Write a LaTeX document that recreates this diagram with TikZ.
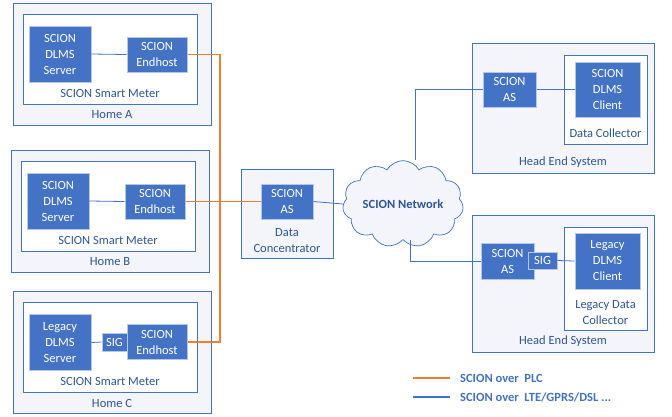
\documentclass[tikz,border=0pt]{standalone}
\usepackage{fontspec}
\setmainfont{Carlito}
\usetikzlibrary{shapes.symbols}
\definecolor{bblue}{HTML}{4472C4}
\definecolor{bedge}{HTML}{B4C7E7}
\definecolor{tblue}{HTML}{2F5597}
\definecolor{lblue}{HTML}{4472C4}
\definecolor{orng}{HTML}{ED7D31}
\definecolor{outfill}{HTML}{F3F5FB}
\begin{document}
\begin{tikzpicture}[x=1pt,y=-1pt,
  font=\fontsize{12.5}{16}\selectfont,
  blk/.style={draw=bedge,line width=1pt,fill=bblue,text=white,align=center,inner sep=0pt},
  outer/.style={draw=bblue,line width=0.8pt,fill=outfill,inner sep=0pt},
  inner/.style={draw=bblue,line width=0.8pt,fill=white,inner sep=0pt},
  lbl/.style={text=tblue,align=center,inner sep=0pt},
  blueline/.style={draw=lblue,line width=0.8pt},
  orline/.style={draw=orng,line width=1.2pt}]
\useasboundingbox (0,0) rectangle (672,416);
\fill[white] (0,0) rectangle (672,416);
% Home A
\node[outer,minimum width=198pt,minimum height=122pt] (homeA) at (112,64) {};
\node[inner,minimum width=174pt,minimum height=90pt] (smA) at (110,59) {};
\node[blk,minimum width=62pt,minimum height=56pt] (srvA) at (60,54) {SCION\\DLMS\\Server};
\node[blk,minimum width=60pt,minimum height=35pt] (ehA) at (157,54.5) {SCION\\Endhost};
\node[lbl] (smAl) at (110,93) {SCION Smart Meter};
\node[lbl] (homeAl) at (112,115) {Home A};
\draw[blueline] (srvA.east) -- (ehA.west);
% Home B
\node[outer,minimum width=198pt,minimum height=122pt] (homeB) at (110,211) {};
\node[inner,minimum width=174pt,minimum height=90pt] (smB) at (108,206) {};
\node[blk,minimum width=62pt,minimum height=56pt] (srvB) at (58,201) {SCION\\DLMS\\Server};
\node[blk,minimum width=60pt,minimum height=35pt] (ehB) at (155,201.5) {SCION\\Endhost};
\node[lbl] (smBl) at (108,240) {SCION Smart Meter};
\node[lbl] (homeBl) at (110,262) {Home B};
\draw[blueline] (srvB.east) -- (ehB.west);
% Home C
\node[outer,minimum width=198pt,minimum height=122pt] (homeC) at (112,352.5) {};
\node[inner,minimum width=174pt,minimum height=90pt] (smC) at (110,347.5) {};
\node[blk,minimum width=62pt,minimum height=56pt] (srvC) at (60,342.5) {Legacy\\DLMS\\Server};
\node[blk,minimum width=60pt,minimum height=35pt] (ehC) at (157,342) {SCION\\Endhost};
\node[blk,minimum width=25pt,minimum height=18pt] (sigC) at (114.5,342) {SIG};
\node[lbl] (smCl) at (110,381.5) {SCION Smart Meter};
\node[lbl] (homeCl) at (112,403.5) {Home C};
\draw[blueline] (srvC.east) -- (sigC.west);
% Data concentrator
\node[outer,minimum width=92pt,minimum height=89pt] (dc) at (287,213.5) {};
\node[blk,minimum width=52pt,minimum height=35pt] (asDC) at (287,201.5) {SCION\\AS};
\node[lbl] (dcl) at (287,240.5) {Data\\Concentrator};
% orange PLC lines
\coordinate (oA) at (220,54.5);
\coordinate (oC) at (220,342);
\draw[orline] (ehA.east) -- (oA) -- (oC) -- (ehC.east);
\draw[orline] (ehB.east) -- (asDC.west);
% Cloud
\node[cloud,cloud puffs=11,cloud puff arc=120,aspect=1.6,draw=bblue,line width=0.7pt,fill=outfill,
  minimum width=108pt,minimum height=70pt,inner sep=0pt,text=tblue,font=\fontsize{12.5}{16}\selectfont\bfseries] (net) at (403,204) {SCION Network};
\draw[blueline] (asDC.east) -- (net.west);
% Head End System 1
\node[outer,minimum width=182pt,minimum height=130pt] (he1) at (563,108) {};
\node[inner,minimum width=83pt,minimum height=89pt] (dcol) at (605.5,99.5) {};
\node[blk,minimum width=53pt,minimum height=35pt] (as1) at (509.5,89.5) {SCION\\AS};
\node[blk,minimum width=65pt,minimum height=55pt] (cl1) at (607.5,89.5) {SCION\\DLMS\\Client};
\node[lbl] (dcoll) at (605.5,133) {Data Collector};
\node[lbl] (he1l) at (563,162) {Head End System};
\draw[blueline] (as1.east) -- (cl1.west);
% Head End System 2
\node[outer,minimum width=182pt,minimum height=137pt] (he2) at (563,283.5) {};
\node[inner,minimum width=83pt,minimum height=103pt] (ldc) at (605.5,278.5) {};
\node[blk,minimum width=53pt,minimum height=36pt] (as2) at (507.5,261) {SCION\\AS};
\node[blk,minimum width=29pt,minimum height=17pt] (sig2) at (542.5,260.5) {SIG};
\node[blk,minimum width=65pt,minimum height=56pt] (cl2) at (607.5,261) {Legacy\\DLMS\\Client};
\node[lbl] (ldcl) at (605.5,312.5) {Legacy Data\\Collector};
\node[lbl] (he2l) at (563,341) {Head End System};
\draw[blueline] (sig2.east) -- (cl2.west);
% cloud links
\coordinate (u1) at (415,89.5);
\coordinate (d1) at (410,261);
\draw[blueline] (net.north -| u1) -- (u1) -- (as1.west);
\draw[blueline] (net.south -| d1) -- (d1) -- (as2.west);
% Legend
\coordinate (lo1) at (413,378);
\coordinate (lo2) at (450,378);
\coordinate (lb1) at (413,397);
\coordinate (lb2) at (450,397);
\draw[orline] (lo1) -- (lo2);
\draw[blueline,line width=1.2pt] (lb1) -- (lb2);
\node[anchor=west,text=lblue,font=\fontsize{12.5}{16}\selectfont\bfseries,inner sep=0pt] (lt1) at (460,378) {SCION over\ \ PLC};
\node[anchor=west,text=lblue,font=\fontsize{12.5}{16}\selectfont\bfseries,inner sep=0pt] (lt2) at (460,397) {SCION over\ \ LTE/GPRS/DSL ...};
\end{tikzpicture}
\end{document}
